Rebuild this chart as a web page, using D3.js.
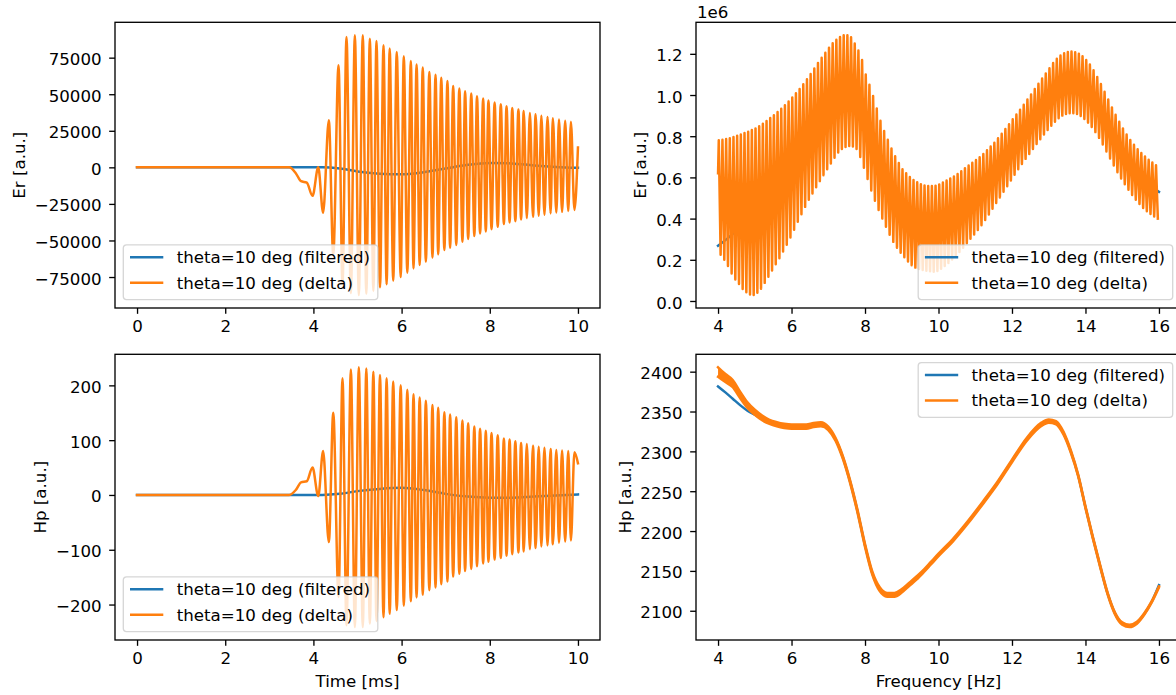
<!DOCTYPE html>
<html><head><meta charset="utf-8">
<script src="https://cdn.jsdelivr.net/npm/d3@7"></script>
<style>body{margin:0;background:#fff}svg{display:block}</style>
</head><body><svg id="c" width="1176" height="695"></svg>
<script>
// ---------------- data ----------------
const seriesNames = ["theta=10 deg (filtered)", "theta=10 deg (delta)"];
const timeTicks = [0, 2, 4, 6, 8, 10];
const freqTicks = [4, 6, 8, 10, 12, 14, 16];
const erTimeTicks = [-75000, -50000, -25000, 0, 25000, 50000, 75000];
const hpTimeTicks = [-200, -100, 0, 100, 200];
const erFreqTicks = [0.0, 0.2, 0.4, 0.6, 0.8, 1.0, 1.2];
const hpFreqTicks = [2100, 2150, 2200, 2250, 2300, 2350, 2400];

// time-domain extrema (shared time positions), Er and Hp "delta" values
const extremaT = [0,3.45,3.6,3.72,3.85,3.98,4.11,4.22,4.35,4.45,4.57,4.66,4.75,4.85,4.94,5.03,5.12,5.20,5.28,5.36,5.43,5.51,5.59,5.66,5.73,5.81,5.89,5.98,6.05,6.13,6.21,6.27,6.34,6.41,6.48,6.55,6.63,6.70,6.77,6.83,6.90,6.97,7.04,7.10,7.17,7.24,7.31,7.38,7.44,7.51,7.58,7.65,7.71,7.78,7.85,7.91,7.97,8.04,8.11,8.18,8.25,8.32,8.38,8.45,8.51,8.58,8.65,8.71,8.77,8.84,8.91,8.98,9.04,9.11,9.17,9.24,9.31,9.38,9.43,9.51,9.57,9.64,9.71,9.78,9.84,9.92,10.0];
const erDeltaV = [0,0,-4000,-9500,-10500,-19500,0,-31000,32200,-60000,69800,-80000,89100,-86000,90300,-87300,90300,-86500,88000,-84500,86400,-82000,83500,-80000,81200,-77500,78900,-75000,75900,-72000,72700,-69100,70300,-66800,68200,-64500,65200,-61600,63400,-59500,61200,-56600,59100,-55000,55700,-53100,53900,-50900,52000,-49000,50500,-47000,48600,-45200,47000,-43800,45700,-42300,44300,-40700,43200,-38800,41800,-37700,40600,-36800,39500,-35600,38600,-34700,37200,-33800,36300,-33100,35200,-32400,34500,-31500,33600,-30800,32700,-30400,31800,-29900,31100,-29200,13600];
const hpDeltaV = [0,0,9,23,25,50,-2,80,-86,150,-186,213,-238,229,-241,233,-241,231,-235,225,-230,219,-223,213,-217,207,-210,200,-202,192,-194,184,-187,178,-182,172,-174,164,-169,159,-163,151,-158,147,-149,142,-144,136,-139,131,-135,125,-130,121,-125,117,-122,113,-118,109,-115,103,-111,101,-108,98,-105,95,-103,93,-99,90,-97,88,-94,86,-92,84,-90,82,-87,81,-85,80,-83,78,58];

// time-domain filtered
const filtT = [0,4.2,4.6,5.0,5.5,6.0,6.5,7.0,7.5,8.0,8.5,9.0,9.5,10.0];
const erFiltV = [0,0,-800,-2800,-4300,-4800,-3300,-800,1700,3000,2700,1300,300,-300];
const hpFiltV = [0,0,2,7,11,13,9,2,-3,-5,-5,-3,-1,1];

// Er spectrum (units of 1e6): start point, ripple peaks and troughs
const erSpecStart = [4.0, 0.62];
const erPeakF = [4.02,4.12,4.22,4.32,4.42,4.52,4.62,4.72,4.82,4.92,
 5.02,5.12,5.22,5.32,5.42,5.52,5.62,5.72,5.82,5.92,
 6.02,6.12,6.22,6.32,6.42,6.52,6.62,6.72,6.82,6.92,
 7.02,7.12,7.22,7.32,7.42,7.52,7.62,7.72,7.82,7.92,
 8.02,8.12,8.22,8.32,8.42,8.52,8.62,8.72,8.82,8.92,
 9.02,9.12,9.22,9.32,9.42,9.52,9.62,9.72,9.82,9.92,
 10.02,10.12,10.22,10.32,10.42,10.52,10.62,10.72,10.82,10.92,
 11.02,11.12,11.22,11.32,11.42,11.52,11.62,11.72,11.82,11.92,
 12.02,12.12,12.22,12.32,12.42,12.52,12.62,12.72,12.82,12.92,
 13.02,13.12,13.22,13.32,13.42,13.52,13.62,13.72,13.82,13.92,
 14.02,14.12,14.22,14.32,14.42,14.52,14.62,14.72,14.82,14.92,
 15.02,15.12,15.22,15.32,15.42,15.52,15.62,15.72,15.82,15.92];
const erPeakV = [0.780,0.783,0.786,0.790,0.796,0.802,0.808,0.815,0.822,0.830,
 0.838,0.848,0.860,0.874,0.888,0.902,0.917,0.933,0.950,0.968,
 0.988,1.008,1.029,1.052,1.076,1.102,1.129,1.156,1.181,1.205,
 1.229,1.251,1.268,1.282,1.290,1.290,1.280,1.250,1.216,1.170,
 1.100,1.050,0.995,0.935,0.875,0.825,0.783,0.740,0.703,0.670,
 0.640,0.620,0.602,0.587,0.576,0.567,0.561,0.558,0.558,0.560,
 0.566,0.575,0.585,0.595,0.604,0.616,0.630,0.645,0.658,0.671,
 0.684,0.698,0.714,0.732,0.750,0.768,0.790,0.812,0.835,0.858,
 0.882,0.905,0.928,0.953,0.978,1.003,1.029,1.055,1.080,1.105,
 1.130,1.155,1.176,1.192,1.203,1.209,1.211,1.208,1.200,1.188,
 1.170,1.148,1.120,1.088,1.053,1.016,0.978,0.940,0.904,0.870,
 0.838,0.808,0.782,0.758,0.737,0.718,0.701,0.686,0.672,0.659];
const erTroughF = [4.07,4.17,4.27,4.37,4.47,4.57,4.67,4.77,4.87,4.97,
 5.07,5.17,5.27,5.37,5.47,5.57,5.67,5.77,5.87,5.97,
 6.07,6.17,6.27,6.37,6.47,6.57,6.67,6.77,6.87,6.97,
 7.07,7.17,7.27,7.37,7.47,7.57,7.67,7.77,7.87,7.97,
 8.07,8.17,8.27,8.37,8.47,8.57,8.67,8.77,8.87,8.97,
 9.07,9.17,9.27,9.37,9.47,9.57,9.67,9.77,9.87,9.97,
 10.07,10.17,10.27,10.37,10.47,10.57,10.67,10.77,10.87,10.97,
 11.07,11.17,11.27,11.37,11.47,11.57,11.67,11.77,11.87,11.97,
 12.07,12.17,12.27,12.37,12.47,12.57,12.67,12.77,12.87,12.97,
 13.07,13.17,13.27,13.37,13.47,13.57,13.67,13.77,13.87,13.97,
 14.07,14.17,14.27,14.37,14.47,14.57,14.67,14.77,14.87,14.97,
 15.07,15.17,15.27,15.37,15.47,15.57,15.67,15.77,15.87,15.97];
const erTroughV = [0.225,0.200,0.170,0.133,0.104,0.082,0.058,0.042,0.032,0.029,
 0.040,0.060,0.088,0.118,0.148,0.178,0.208,0.240,0.273,0.308,
 0.346,0.385,0.421,0.457,0.492,0.522,0.552,0.582,0.611,0.640,
 0.668,0.695,0.721,0.738,0.748,0.752,0.750,0.738,0.699,0.647,
 0.592,0.537,0.487,0.442,0.400,0.360,0.322,0.287,0.259,0.234,
 0.212,0.192,0.174,0.162,0.155,0.150,0.147,0.144,0.142,0.146,
 0.157,0.170,0.185,0.201,0.219,0.238,0.259,0.280,0.302,0.323,
 0.345,0.368,0.393,0.420,0.448,0.476,0.503,0.530,0.557,0.585,
 0.613,0.640,0.665,0.690,0.714,0.738,0.762,0.785,0.808,0.830,
 0.851,0.870,0.887,0.900,0.908,0.912,0.912,0.908,0.898,0.884,
 0.866,0.845,0.820,0.792,0.760,0.726,0.692,0.658,0.625,0.595,
 0.567,0.540,0.515,0.492,0.471,0.452,0.436,0.422,0.410,0.400];
const erSpecFiltF = [4.0,4.3,4.6,5.0,5.5,6.0,6.5,7.0,7.5,8.0,8.5,9.0,9.5,10.0,10.5,11.0,11.5,12.0,12.5,13.0,13.5,14.0,14.5,15.0,15.5,16.0];
const erSpecFiltV = [0.268,0.31,0.36,0.44,0.55,0.65,0.78,0.93,1.02,0.88,0.62,0.43,0.36,0.35,0.41,0.50,0.61,0.74,0.87,0.98,1.05,1.02,0.90,0.74,0.60,0.53];

// Hp spectrum: delta centre line, ripple half-amplitude, filtered line
const hpSpecF = [4.0,4.2,4.4,4.6,4.8,5.0,5.2,5.4,5.6,5.8,6.0,6.2,6.4,6.6,6.8,7.0,7.2,7.4,7.6,7.8,8.0,8.2,8.4,8.6,8.8,9.0,9.2,9.4,9.6,9.8,10.0,10.4,10.8,11.2,11.6,12.0,12.4,12.8,13.0,13.2,13.4,13.6,13.8,14.0,14.2,14.4,14.6,14.8,15.0,15.2,15.4,15.6,15.8,16.0];
const hpSpecDelta = [2399.5,2392,2385,2371,2358,2349,2342,2337,2334,2332,2331,2331,2331,2333,2334,2329,2315,2292,2261,2224,2182,2147,2127,2120,2120,2125,2133,2141,2150,2160,2170,2189,2211,2235,2260,2288,2315,2334,2338,2336,2323,2300,2270,2230,2192,2156,2122,2097,2084,2081,2085,2096,2111,2130];
const hpSpecRipple = [6,5,4.5,4,3.5,3.2,3,2.6,2.6,2.6,2.6,2.6,2.6,2.6,2.6,2.2,1.8,1.8,1.8,1.8,1.8,2,2.4,2.4,2.4,2.2,2,2,1.6,1.6,1.6,1.6,1.6,1.6,1.6,1.6,1.8,2,2,2,1.8,1.5,1.2,1.2,1.2,1.2,1.2,1.2,1.4,1.4,1.2,1,0.8,0.6];
const hpSpecFilt = [2381.5,2374,2366,2358,2351,2346,2341,2337,2334,2332,2331,2331,2331,2333,2334,2329,2315,2292,2261,2224,2182,2147,2127,2120,2120,2125,2133,2141,2150,2160,2170,2189,2211,2235,2260,2288,2315,2334,2338,2336,2323,2300,2270,2230,2192,2156,2122,2097,2084,2081,2085,2096,2111,2132];

// ---------------- drawing ----------------
const PW = 485, PH = 285.7, TICK = 5.83, LW = 2.5, SW = 1.33, FS = 16.67;
const C0 = '#1f77b4', C1 = '#ff7f0e';
const FONT = '"DejaVu Sans", sans-serif';
const svg = d3.select('#c');
const defs = svg.append('defs');

function padded(vals) { const [a, b] = d3.extent(vals); const r = b - a; return [a - 0.05 * r, b + 0.05 * r]; }

function panel(name, px, py, xs, ys, xt, yt, yfmt, ylabel, ylabelX) {
  defs.append('clipPath').attr('id', 'clip' + name).append('rect').attr('width', PW).attr('height', PH);
  const g = svg.append('g').attr('transform', `translate(${px},${py})`);
  const plot = g.append('g').attr('clip-path', `url(#clip${name})`);
  const axB = g.append('g').attr('transform', `translate(0,${PH})`)
    .call(d3.axisBottom(xs).tickValues(xt).tickFormat(d3.format('d')).tickSizeInner(TICK).tickSizeOuter(0).tickPadding(6.6));
  const axL = g.append('g')
    .call(d3.axisLeft(ys).tickValues(yt).tickFormat(yfmt).tickSizeInner(TICK).tickSizeOuter(0).tickPadding(7.5));
  [axB, axL].forEach(a => {
    a.select('.domain').remove();
    a.attr('font-family', FONT).attr('font-size', FS);
    a.selectAll('line').attr('stroke', '#000').attr('stroke-width', SW);
    a.selectAll('text').attr('fill', '#000');
  });
  axL.selectAll('text').attr('dy', '0.42em');
  svg.append('text').attr('transform', `translate(${ylabelX},${py + PH / 2}) rotate(-90)`)
    .attr('text-anchor', 'middle').attr('font-family', FONT).attr('font-size', FS).attr('fill', '#000').text(ylabel);
  return { g, plot };
}

function frame(g) {
  g.append('rect').attr('width', PW).attr('height', PH).attr('fill', 'none').attr('stroke', '#000').attr('stroke-width', SW);
}

function legend(g, lx, ly) {
  const lg = g.append('g').attr('transform', `translate(${lx},${ly})`);
  lg.append('rect').attr('width', 254.5).attr('height', 54.7).attr('rx', 3.3).attr('ry', 3.3)
    .attr('fill', '#fff').attr('fill-opacity', 0.8).attr('stroke', '#ccc').attr('stroke-opacity', 0.8).attr('stroke-width', SW);
  [C0, C1].forEach((c, i) => {
    const yy = 12.4 + i * 25.4;
    lg.append('line').attr('x1', 6.7).attr('x2', 40).attr('y1', yy).attr('y2', yy).attr('stroke', c).attr('stroke-width', LW).attr('stroke-linecap', 'butt');
    lg.append('text').attr('x', 53.4).attr('y', yy + 6).attr('font-family', FONT).attr('font-size', FS).attr('fill', '#000').text(seriesNames[i]);
  });
}

function drawLine(plot, pts, xs, ys, color, curve) {
  plot.append('path').datum(pts).attr('fill', 'none').attr('stroke', color).attr('stroke-width', LW)
    .attr('stroke-linejoin', 'round').attr('stroke-linecap', 'square')
    .attr('d', d3.line().x(d => xs(d[0])).y(d => ys(d[1])).curve(curve));
}

// ---- top-left: Er vs time ----
{
  const xs = d3.scaleLinear().domain(padded(extremaT)).range([0, PW]);
  const ys = d3.scaleLinear().domain(padded(erDeltaV.concat(erFiltV))).range([PH, 0]);
  const { g, plot } = panel('tl', 115, 22.3, xs, ys, timeTicks, erTimeTicks, d3.format('d'), 'Er [a.u.]', 24.6);
  drawLine(plot, filtT.map((t, i) => [t, erFiltV[i]]), xs, ys, C0, d3.curveMonotoneX);
  drawLine(plot, extremaT.map((t, i) => [t, erDeltaV[i]]), xs, ys, C1, d3.curveMonotoneX);
  frame(g);
  legend(g, 8.3, 222.6);
}
// ---- bottom-left: Hp vs time ----
{
  const xs = d3.scaleLinear().domain(padded(extremaT)).range([0, PW]);
  const ys = d3.scaleLinear().domain(padded(hpDeltaV.concat(hpFiltV))).range([PH, 0]);
  const { g, plot } = panel('bl', 115, 354.3, xs, ys, timeTicks, hpTimeTicks, d3.format('d'), 'Hp [a.u.]', 46.2);
  drawLine(plot, filtT.map((t, i) => [t, hpFiltV[i]]), xs, ys, C0, d3.curveMonotoneX);
  drawLine(plot, extremaT.map((t, i) => [t, hpDeltaV[i]]), xs, ys, C1, d3.curveMonotoneX);
  frame(g);
  legend(g, 8.3, 222.6);
  svg.append('text').attr('x', 115 + PW / 2).attr('y', 687).attr('text-anchor', 'middle')
    .attr('font-family', FONT).attr('font-size', FS).attr('fill', '#000').text('Time [ms]');
}
// ---- top-right: Er spectrum ----
{
  const specPts = [erSpecStart.slice()];
  erPeakF.forEach((f, i) => { specPts.push([f, erPeakV[i]]); specPts.push([erTroughF[i], erTroughV[i]]); });
  const xs = d3.scaleLinear().domain(padded(freqTicks)).range([0, PW]);
  const ys = d3.scaleLinear().domain(padded(erPeakV.concat(erTroughV, erSpecFiltV, [erSpecStart[1]]))).range([PH, 0]);
  const { g, plot } = panel('tr', 696, 22.3, xs, ys, freqTicks, erFreqTicks, d3.format('.1f'), 'Er [a.u.]', 645.7);
  drawLine(plot, erSpecFiltF.map((f, i) => [f, erSpecFiltV[i]]), xs, ys, C0, d3.curveMonotoneX);
  drawLine(plot, specPts, xs, ys, C1, d3.curveLinear);
  frame(g);
  legend(g, 222.2, 222.6);
  svg.append('text').attr('x', 697).attr('y', 18).attr('font-family', FONT).attr('font-size', FS).attr('fill', '#000').text('1e6');
}
// ---- bottom-right: Hp spectrum ----
{
  const hi = hpSpecDelta.map((v, i) => v + hpSpecRipple[i]);
  const lo = hpSpecDelta.map((v, i) => v - hpSpecRipple[i]);
  const xs = d3.scaleLinear().domain(padded(freqTicks)).range([0, PW]);
  const ys = d3.scaleLinear().domain(padded(hi.concat(lo, hpSpecFilt))).range([PH, 0]);
  const { g, plot } = panel('br', 696, 354.3, xs, ys, freqTicks, hpFreqTicks, d3.format('d'), 'Hp [a.u.]', 630.8);
  drawLine(plot, hpSpecF.map((f, i) => [f, hpSpecFilt[i]]), xs, ys, C0, d3.curveMonotoneX);
  plot.append('path').datum(hpSpecF.map((f, i) => [f, lo[i], hi[i]])).attr('fill', C1)
    .attr('d', d3.area().x(d => xs(d[0])).y0(d => ys(d[1])).y1(d => ys(d[2])).curve(d3.curveMonotoneX));
  drawLine(plot, hpSpecF.map((f, i) => [f, hi[i]]), xs, ys, C1, d3.curveMonotoneX);
  drawLine(plot, hpSpecF.map((f, i) => [f, lo[i]]), xs, ys, C1, d3.curveMonotoneX);
  frame(g);
  legend(g, 222.2, 8.3);
  svg.append('text').attr('x', 696 + PW / 2).attr('y', 687).attr('text-anchor', 'middle')
    .attr('font-family', FONT).attr('font-size', FS).attr('fill', '#000').text('Frequency [Hz]');
}
</script></body></html>
